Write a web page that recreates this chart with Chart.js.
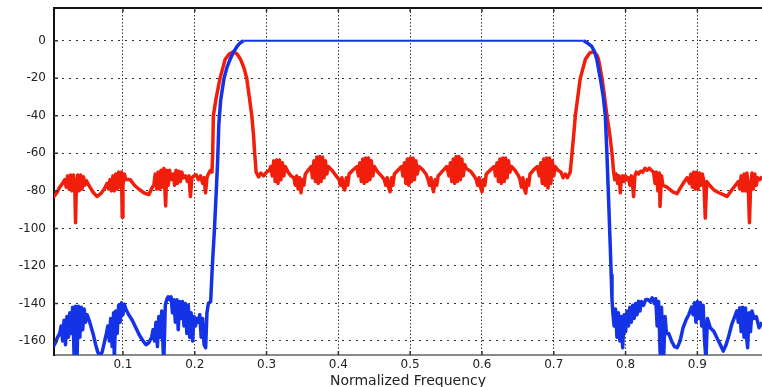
<!DOCTYPE html>
<html lang="en">
<head>
  <meta charset="UTF-8">
  <title>Filter Magnitude Response</title>
  <script src="https://cdn.jsdelivr.net/npm/chart.js"></script>
  <style>
    html, body { margin: 0; padding: 0; background: #fff; }
    #wrap { width: 762px; height: 387px; position: relative; }
  </style>
</head>
<body>
  <div id="wrap"><canvas id="chart"></canvas></div>
  <script>
    const xTicks = [0.1, 0.2, 0.3, 0.4, 0.5, 0.6, 0.7, 0.8, 0.9];
    const yTicks = [-160, -140, -120, -100, -80, -60, -40, -20, 0];
    const xRange = [0.004, 0.99];
    const yRange = [-167.5, 17.5];
    const xTitle = "Normalized Frequency";

    // red trace: [normalized frequency, dB]
    const redTrace = [
      // low stopband
      [0.000, -84], [0.004, -83], [0.008, -81], [0.012, -78], [0.016, -76], [0.019, -74],
      [0.021, -78], [0.023, -72], [0.025, -79], [0.027, -71.5], [0.029, -80], [0.031, -71.5],
      [0.033, -79], [0.034, -97], [0.035, -80], [0.037, -71.5], [0.039, -80], [0.041, -71.5],
      [0.043, -79], [0.045, -72.5], [0.047, -77], [0.049, -74.5],
      [0.054, -78], [0.059, -81], [0.064, -83], [0.069, -81.5], [0.074, -79], [0.078, -76],
      [0.080, -79], [0.082, -74], [0.084, -80], [0.086, -72], [0.088, -80], [0.090, -71],
      [0.092, -79], [0.094, -70], [0.096, -78], [0.098, -70], [0.099, -94], [0.100, -77],
      [0.102, -71], [0.104, -74],
      [0.110, -74], [0.116, -77], [0.122, -79], [0.129, -81], [0.136, -82], [0.141, -78],
      [0.143, -77], [0.145, -71], [0.147, -79], [0.149, -70], [0.151, -79], [0.153, -69],
      [0.155, -78], [0.157, -68], [0.1595, -88], [0.161, -69], [0.163, -77], [0.165, -69],
      [0.167, -74],
      [0.170, -71], [0.172, -77], [0.174, -69], [0.176, -76], [0.178, -69.5], [0.180, -75],
      [0.182, -70], [0.184, -73], [0.187, -72], [0.190, -75], [0.192, -72], [0.194, -83],
      [0.196, -73], [0.199, -72], [0.202, -71.5], [0.205, -74], [0.208, -72], [0.211, -76],
      [0.213, -73], [0.215, -81], [0.217, -73], [0.219, -71], [0.222, -69], [0.224, -70],
      // lower lobe
      [0.2250, -60], [0.2259, -40], [0.2296, -31], [0.2352, -20], [0.2422, -10], [0.2480, -7],
      [0.2537, -5.8], [0.2590, -7], [0.2640, -10], [0.2690, -15], [0.2724, -20], [0.2760, -30],
      [0.2795, -40], [0.2818, -50], [0.2835, -60], [0.2855, -70],
      // middle ripple
      [0.289, -72.5], [0.292, -70.5], [0.296, -72], [0.300, -70], [0.304, -69],
      [0.306, -67], [0.308, -72], [0.310, -64], [0.312, -75], [0.314, -63.5], [0.316, -76],
      [0.318, -63.5], [0.320, -74], [0.322, -65], [0.324, -72], [0.326, -67],
      [0.330, -70], [0.334, -72],
      [0.338, -73], [0.340, -77], [0.342, -72], [0.344, -79], [0.346, -73], [0.348, -81],
      [0.350, -74], [0.352, -77], [0.354, -71],
      [0.358, -69], [0.362, -67],
      [0.364, -73], [0.366, -64], [0.368, -75], [0.370, -62], [0.372, -76], [0.374, -61.7],
      [0.376, -75], [0.378, -62], [0.380, -73], [0.382, -64], [0.384, -71], [0.386, -67],
      [0.391, -69], [0.397, -72],
      [0.401, -74], [0.403, -77], [0.405, -73], [0.407, -78], [0.409, -79.5], [0.411, -73],
      [0.413, -77], [0.415, -71],
      [0.420, -69], [0.426, -67],
      [0.428, -72], [0.430, -65], [0.432, -75], [0.434, -63], [0.436, -76], [0.438, -62.5],
      [0.440, -75], [0.442, -62.5], [0.444, -74], [0.446, -64], [0.448, -72], [0.450, -67],
      [0.455, -70], [0.460, -72],
      [0.464, -74], [0.466, -77], [0.468, -73], [0.470, -78], [0.472, -80.5], [0.474, -73],
      [0.476, -77], [0.478, -71],
      [0.483, -69], [0.488, -67],
      [0.490, -72], [0.492, -65], [0.494, -76], [0.496, -63], [0.498, -77], [0.500, -62.5],
      [0.502, -75], [0.504, -62.5], [0.506, -74], [0.508, -64], [0.510, -71], [0.512, -67],
      [0.517, -68.5], [0.522, -71],
      [0.525, -74], [0.527, -77], [0.529, -73], [0.531, -78], [0.5325, -80.5], [0.535, -74],
      [0.537, -77], [0.539, -72],
      [0.545, -69.5], [0.551, -67],
      [0.554, -72], [0.556, -65], [0.558, -75], [0.560, -63], [0.562, -76], [0.564, -61.7],
      [0.566, -75], [0.568, -61.7], [0.570, -74], [0.572, -63], [0.574, -72], [0.576, -66],
      [0.578, -68],
      [0.584, -69.5], [0.589, -72],
      [0.592, -74], [0.594, -77], [0.596, -73], [0.598, -78], [0.600, -80.5], [0.602, -74],
      [0.604, -77], [0.606, -71],
      [0.612, -68.8], [0.617, -67],
      [0.619, -72], [0.621, -65], [0.623, -75], [0.625, -63], [0.627, -76], [0.629, -62.5],
      [0.631, -75], [0.633, -62.5], [0.635, -73], [0.637, -64], [0.639, -70], [0.641, -67],
      [0.646, -69], [0.651, -72],
      [0.653, -74], [0.655, -78], [0.657, -73], [0.659, -79], [0.661, -81.2], [0.663, -74],
      [0.665, -77], [0.667, -71],
      [0.672, -68.8], [0.677, -67],
      [0.680, -72], [0.682, -65], [0.684, -76], [0.686, -63], [0.688, -77], [0.690, -62.5],
      [0.692, -78.5], [0.694, -62.5], [0.696, -76], [0.698, -64], [0.700, -72], [0.702, -67],
      [0.706, -69], [0.710, -70], [0.713, -73], [0.716, -71], [0.719, -73], [0.7229, -70],
      // upper lobe
      [0.7254, -60], [0.7278, -50], [0.7300, -40], [0.7335, -30], [0.7369, -20], [0.7439, -10],
      [0.7500, -6.5], [0.7555, -5.8], [0.7600, -7.5], [0.7624, -10], [0.7672, -20], [0.7708, -30],
      [0.7741, -40], [0.7780, -50], [0.7811, -60], [0.7834, -70],
      // high stopband
      [0.785, -74], [0.787, -71], [0.789, -76], [0.791, -72], [0.7927, -81], [0.794, -74],
      [0.796, -72], [0.798, -75], [0.800, -72], [0.802, -74], [0.804, -73], [0.806, -77],
      [0.808, -72], [0.810, -78], [0.8112, -83], [0.813, -72], [0.815, -70], [0.818, -71],
      [0.821, -69.5], [0.824, -70], [0.827, -68], [0.830, -69], [0.833, -67.9], [0.836, -69],
      [0.839, -70],
      [0.841, -76], [0.843, -70], [0.845, -80], [0.847, -70.5], [0.848, -88.3], [0.850, -72],
      [0.852, -77],
      [0.856, -77.7], [0.861, -79], [0.866, -80.5], [0.8717, -81.5], [0.877, -78], [0.882, -75],
      [0.8856, -73],
      [0.889, -76], [0.891, -71], [0.893, -78], [0.895, -70], [0.897, -79], [0.899, -70],
      [0.901, -79], [0.903, -70.5], [0.905, -77], [0.907, -71], [0.909, -75], [0.911, -94.5],
      [0.913, -75], [0.917, -77], [0.923, -79.5], [0.930, -81], [0.936, -82], [0.9414, -83],
      [0.947, -80], [0.953, -77], [0.957, -75],
      [0.959, -79], [0.961, -72], [0.963, -80], [0.965, -71], [0.967, -80], [0.969, -70.5],
      [0.971, -79], [0.9725, -97], [0.974, -79], [0.976, -70.5], [0.978, -79], [0.980, -71],
      [0.982, -77], [0.984, -73], [0.987, -74], [0.990, -72.3]
    ];

    // blue trace: [normalized frequency, dB]
    const blueTrace = [
      // low stopband
      [0.000, -168], [0.003, -163], [0.006, -161], [0.009, -158], [0.012, -156],
      [0.014, -152], [0.016, -160], [0.018, -149], [0.020, -162], [0.022, -147], [0.024, -158],
      [0.026, -145], [0.028, -156], [0.030, -142], [0.032, -168], [0.034, -141.5], [0.036, -170],
      [0.038, -141.5], [0.040, -158], [0.042, -142], [0.044, -154], [0.046, -143], [0.048, -150],
      [0.050, -146],
      [0.053, -149], [0.056, -153], [0.059, -157], [0.062, -162], [0.065, -166], [0.068, -168],
      [0.071, -166],
      [0.074, -161], [0.077, -156], [0.079, -152], [0.081, -160], [0.083, -148], [0.085, -163],
      [0.087, -145], [0.088, -170], [0.090, -144], [0.092, -156], [0.094, -141], [0.096, -150],
      [0.098, -139.7], [0.100, -146], [0.102, -140.5], [0.104, -143],
      [0.108, -146], [0.113, -149], [0.118, -153], [0.123, -157], [0.128, -160], [0.132, -162],
      [0.136, -161], [0.140, -158],
      [0.142, -154], [0.144, -160], [0.146, -150], [0.148, -163], [0.150, -147], [0.152, -158],
      [0.154, -144], [0.156, -165], [0.157, -170], [0.159, -141],
      [0.161, -138], [0.163, -136.5], [0.165, -138], [0.167, -136.5],
      [0.169, -145], [0.171, -138], [0.173, -150], [0.175, -138], [0.177, -154], [0.179, -139],
      [0.181, -148], [0.183, -139], [0.185, -152], [0.187, -140], [0.189, -156], [0.191, -141],
      [0.193, -158], [0.195, -145], [0.197, -160], [0.199, -147], [0.201, -152], [0.203, -148],
      [0.205, -150], [0.207, -146], [0.209, -158], [0.211, -148], [0.213, -162], [0.2152, -163.6],
      [0.217, -145], [0.219, -140], [0.2222, -139],
      // lower transition
      [0.2245, -120], [0.2275, -100], [0.2300, -80], [0.2320, -63], [0.2335, -45], [0.2360, -32],
      [0.2408, -20], [0.2450, -14], [0.2491, -10], [0.2540, -6], [0.2589, -3], [0.2630, -1.2],
      [0.2677, 0],
      // passband
      [0.7416, 0],
      // upper transition
      [0.7470, -1.2], [0.7530, -3], [0.7570, -6], [0.7600, -10], [0.7648, -20], [0.7690, -30],
      [0.7718, -40], [0.7740, -60], [0.7764, -85], [0.7787, -110], [0.7800, -125], [0.7811, -138],
      // high stopband
      [0.7825, -146], [0.784, -152], [0.786, -143], [0.788, -158], [0.790, -145], [0.792, -160],
      [0.794, -147], [0.796, -163.6], [0.798, -146], [0.800, -155], [0.802, -144], [0.804, -152],
      [0.806, -142], [0.808, -150], [0.810, -141], [0.812, -148], [0.814, -140],
      [0.816, -146], [0.818, -138.8], [0.820, -144], [0.822, -139], [0.825, -141], [0.828, -138],
      [0.831, -137.9], [0.834, -139], [0.837, -137], [0.840, -140], [0.842, -137.5],
      [0.844, -152], [0.846, -139], [0.848, -165], [0.849, -170], [0.850, -142], [0.852, -160],
      [0.853, -170], [0.855, -147], [0.857, -156],
      [0.860, -156], [0.864, -160], [0.868, -163], [0.872, -163.6], [0.876, -160], [0.880, -153],
      [0.884, -149], [0.888, -146], [0.892, -142],
      [0.894, -146], [0.896, -139.7], [0.898, -150], [0.900, -139], [0.902, -148], [0.904, -139.5],
      [0.906, -152], [0.908, -141], [0.910, -160], [0.912, -170], [0.914, -148],
      [0.918, -153], [0.923, -155], [0.928, -159], [0.932, -162], [0.936, -165.4], [0.940, -162],
      [0.944, -157], [0.948, -151], [0.952, -147], [0.955, -144],
      [0.957, -150], [0.959, -142.3], [0.961, -155], [0.963, -142], [0.965, -158], [0.967, -142.5],
      [0.969, -160], [0.970, -163.6], [0.972, -145], [0.974, -155], [0.976, -144], [0.979, -148],
      [0.982, -147], [0.986, -153], [0.990, -150]
    ];

    const toXY = arr => arr.map(([f, db]) => ({ x: f, y: db }));
    const tickFont = { family: "DejaVu Sans", size: 12 };

    // top border + small inward tick marks, matlab style
    const axesFrame = {
      id: 'axesFrame',
      afterDraw(chart) {
        const { ctx, chartArea: a, scales: { x, y } } = chart;
        ctx.save();
        ctx.strokeStyle = '#111';
        ctx.lineWidth = 2;
        ctx.beginPath();
        ctx.moveTo(a.left - 1, a.top);
        ctx.lineTo(a.right, a.top);
        ctx.stroke();
        ctx.lineWidth = 1.5;
        ctx.strokeStyle = '#333';
        ctx.beginPath();
        xTicks.forEach(v => {
          const px = x.getPixelForValue(v);
          ctx.moveTo(px, a.top); ctx.lineTo(px, a.top + 4);
          ctx.moveTo(px, a.bottom); ctx.lineTo(px, a.bottom - 4);
        });
        yTicks.forEach(v => {
          const py = y.getPixelForValue(v);
          ctx.moveTo(a.left, py); ctx.lineTo(a.left + 4, py);
        });
        ctx.stroke();
        ctx.restore();
      }
    };

    new Chart(document.getElementById('chart'), {
      type: 'line',
      data: {
        datasets: [
          {
            data: toXY(blueTrace),
            borderColor: '#1432e6',
            borderWidth: 3.5,
            segment: {
              borderWidth: c => (c.p0.parsed.y > -0.5 && c.p1.parsed.y > -0.5) ? 2 : 3.5
            }
          },
          {
            data: toXY(redTrace),
            borderColor: '#f01e0a',
            borderWidth: 3.5
          }
        ]
      },
      options: {
        responsive: true,
        maintainAspectRatio: false,
        animation: false,
        events: [],
        layout: { padding: { top: 8, right: 0, bottom: 0, left: 0 } },
        elements: {
          point: { radius: 0 },
          line: { tension: 0, fill: false, borderJoinStyle: 'round' }
        },
        datasets: { line: { clip: 0 } },
        plugins: { legend: { display: false }, tooltip: { enabled: false } },
        scales: {
          x: {
            type: 'linear',
            min: xRange[0],
            max: xRange[1],
            afterBuildTicks: s => { s.ticks = xTicks.map(v => ({ value: v })); },
            afterFit: s => { s.height = 32; s.paddingLeft = 0; s.paddingRight = 0; },
            ticks: {
              callback: v => v.toFixed(1),
              font: tickFont, color: '#222', padding: 3,
              maxRotation: 0, autoSkip: false
            },
            grid: { color: '#333', lineWidth: 1, drawTicks: false },
            border: { color: '#8a8a8a', width: 2, dash: [1.5, 2] },
            title: {
              display: true, text: xTitle, color: '#222',
              font: { family: "DejaVu Sans", size: 14 },
              padding: { top: 0, bottom: -3 }
            }
          },
          y: {
            type: 'linear',
            min: yRange[0],
            max: yRange[1],
            afterBuildTicks: s => { s.ticks = yTicks.map(v => ({ value: v })); },
            afterFit: s => { s.width = 54; s.paddingTop = 0; s.paddingBottom = 0; },
            ticks: { callback: v => String(v), font: tickFont, color: '#222', padding: 8 },
            grid: { color: '#333', lineWidth: 1, drawTicks: false },
            border: { color: '#111', width: 2, dash: [2, 5] }
          }
        }
      },
      plugins: [axesFrame]
    });
  </script>
</body>
</html>
